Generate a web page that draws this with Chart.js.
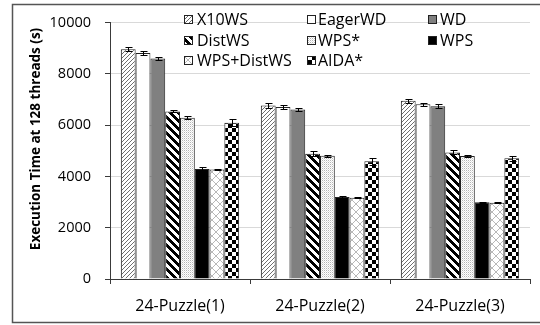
<!DOCTYPE html>
<html>
<head>
<meta charset="utf-8">
<script src="https://cdn.jsdelivr.net/npm/chart.js@4.4.1/dist/chart.umd.min.js"></script>
<style>
  html, body { margin: 0; padding: 0; background: #fff; }
  #wrap { width: 540px; height: 325px; position: relative; }
</style>
</head>
<body>
<div id="wrap"><canvas id="chart" width="540" height="325"></canvas></div>
<script>
// Execution time (s) at 128 threads for each scheduler, per 24-Puzzle instance
const categories = ['24-Puzzle(1)', '24-Puzzle(2)', '24-Puzzle(3)'];
const seriesNames = ['X10WS', 'EagerWD', 'WD', 'DistWS', 'WPS*', 'WPS', 'WPS+DistWS', 'AIDA*'];

const x10ws     = [8960, 6770, 6950];
const eagerWD   = [8820, 6710, 6820];
const wd        = [8600, 6610, 6740];
const distWS    = [6540, 4890, 4940];
const wpsStar   = [6290, 4810, 4800];
const wps       = [4290, 3200, 2990];
const wpsDistWS = [4270, 3170, 2975];
const aidaStar  = [6100, 4590, 4710];

// Error bar half-widths (s)
const x10wsErr     = [80, 85, 75];
const eagerWDErr   = [70, 70, 55];
const wdErr        = [65, 60, 70];
const distWSErr    = [35, 85, 80];
const wpsStarErr   = [60, 35, 40];
const wpsErr       = [90, 35, 30];
const wpsDistWSErr = [25, 15, 15];
const aidaStarErr  = [130, 130, 100];

const yTicks = [0, 2000, 4000, 6000, 8000, 10000];
const yTitle = 'Execution Time at 128 threads (s)';

const seriesValues = [x10ws, eagerWD, wd, distWS, wpsStar, wps, wpsDistWS, aidaStar];
const seriesErrors = [x10wsErr, eagerWDErr, wdErr, distWSErr, wpsStarErr, wpsErr, wpsDistWSErr, aidaStarErr];

// ---- fill patterns ----
function makeTile(w, h, draw) {
  const c = document.createElement('canvas');
  c.width = w; c.height = h;
  const g = c.getContext('2d');
  draw(g, w, h);
  return g.createPattern(c, 'repeat');
}
const px = (g, x, y, col) => { g.fillStyle = col; g.fillRect(x, y, 1, 1); };

const fineHatch = makeTile(4, 4, (g) => {
  g.fillStyle = '#fff'; g.fillRect(0, 0, 4, 4);
  for (let i = 0; i < 4; i++) px(g, i, 3 - i, '#6e6e6e');
});
const wideStripe = makeTile(8, 8, (g) => {
  g.fillStyle = '#fff'; g.fillRect(0, 0, 8, 8);
  for (let y = 0; y < 8; y++) for (let k = 0; k < 4; k++) px(g, (y + k) % 8, y, '#000');
});
const dotted = makeTile(2, 2, (g) => {
  g.fillStyle = '#fff'; g.fillRect(0, 0, 2, 2);
  px(g, 0, 0, '#b5b5b5');
  px(g, 1, 1, '#e3e3e3');
});
const lattice = makeTile(8, 8, (g) => {
  g.fillStyle = '#fff'; g.fillRect(0, 0, 8, 8);
  for (let i = 0; i < 8; i++) { px(g, i, i, '#b8b8b8'); px(g, 7 - i, i, '#b8b8b8'); }
});
const checker = makeTile(8, 8, (g) => {
  g.fillStyle = '#fff'; g.fillRect(0, 0, 8, 8);
  g.fillStyle = '#000'; g.fillRect(0, 0, 4, 4); g.fillRect(4, 4, 4, 4);
});

const fills = [fineHatch, '#ffffff', '#808080', wideStripe, dotted, '#000000', lattice, checker];

const datasets = seriesNames.map((name, i) => ({
  label: name,
  data: seriesValues[i],
  backgroundColor: fills[i],
  borderColor: '#222',
  borderWidth: 1,
  barPercentage: 1.0,
  categoryPercentage: 0.845
}));

const FONT = '"Open Sans", "DejaVu Sans", sans-serif';
const axisColor = '#3a3a3a';

// Error bars, legend grid, axis title and outer frame
const decorations = {
  id: 'decorations',
  afterDatasetsDraw(chart) {
    const ctx = chart.ctx;
    const ys = chart.scales.y;
    ctx.save();
    ctx.strokeStyle = '#000';
    ctx.lineWidth = 1;
    chart.data.datasets.forEach((ds, i) => {
      const meta = chart.getDatasetMeta(i);
      meta.data.forEach((bar, j) => {
        const v = ds.data[j], e = seriesErrors[i][j];
        const x = Math.round(bar.x) + 0.5;
        const t = Math.round(ys.getPixelForValue(v + e)) + 0.5;
        const b = Math.round(ys.getPixelForValue(v - e)) + 0.5;
        ctx.beginPath();
        ctx.moveTo(x, t); ctx.lineTo(x, b);
        ctx.moveTo(x - 3, t); ctx.lineTo(x + 4, t);
        ctx.moveTo(x - 3, b); ctx.lineTo(x + 4, b);
        ctx.stroke();
      });
    });
    ctx.restore();
  },
  afterDraw(chart) {
    const ctx = chart.ctx;
    ctx.save();
    // legend: three columns, three rows
    const colIcon = [184, 307, 428];
    const colText = [197, 318, 440];
    const rowY = [19.5, 40, 60.5];
    ctx.font = '16px ' + FONT;
    ctx.textBaseline = 'middle';
    ctx.textAlign = 'left';
    chart.data.datasets.forEach((ds, i) => {
      const c = i % 3, r = Math.floor(i / 3);
      const ix = colIcon[c], iy = Math.round(rowY[r] - 4.5);
      ctx.fillStyle = ds.backgroundColor;
      ctx.fillRect(ix, iy, 9, 9);
      ctx.strokeStyle = '#222';
      ctx.lineWidth = 1;
      ctx.strokeRect(ix + 0.5, iy + 0.5, 8, 8);
      ctx.fillStyle = '#000';
      ctx.fillText(ds.label, colText[c], rowY[r] + 1);
    });
    // y-axis title
    ctx.translate(36, 139);
    ctx.rotate(-Math.PI / 2);
    ctx.font = 'bold 13.5px ' + FONT;
    ctx.textAlign = 'center';
    ctx.fillStyle = '#000';
    ctx.fillText(yTitle, 0, 0);
    ctx.setTransform(1, 0, 0, 1, 0, 0);
    // outer frame
    ctx.strokeStyle = '#555';
    ctx.lineWidth = 1.5;
    ctx.beginPath();
    ctx.moveTo(541, 4.5); ctx.lineTo(12.5, 4.5); ctx.lineTo(12.5, 322.5); ctx.lineTo(541, 322.5);
    ctx.stroke();
    ctx.restore();
  }
};

new Chart(document.getElementById('chart'), {
  type: 'bar',
  data: { labels: categories, datasets },
  options: {
    responsive: false,
    animation: false,
    devicePixelRatio: 1,
    layout: { padding: { top: 22, right: 10, left: 0, bottom: 0 } },
    plugins: { legend: { display: false }, tooltip: { enabled: false } },
    scales: {
      x: {
        ticks: { font: { family: FONT, size: 16 }, color: '#000', padding: 13 },
        grid: { drawOnChartArea: false, tickColor: axisColor, tickLength: 5, offset: true },
        border: { color: axisColor, width: 1 },
        afterFit(s) { s.height = 46; }
      },
      y: {
        min: 0, max: 10000,
        afterBuildTicks(s) { s.ticks = yTicks.map(v => ({ value: v })); },
        ticks: { font: { family: FONT, size: 14.5 }, color: '#000', padding: 14, callback: v => String(v) },
        grid: { color: '#d9d9d9', tickColor: axisColor, tickLength: 5 },
        border: { color: axisColor, width: 1 },
        afterFit(s) { s.width = 110; }
      }
    }
  },
  plugins: [decorations]
});
</script>
</body>
</html>
